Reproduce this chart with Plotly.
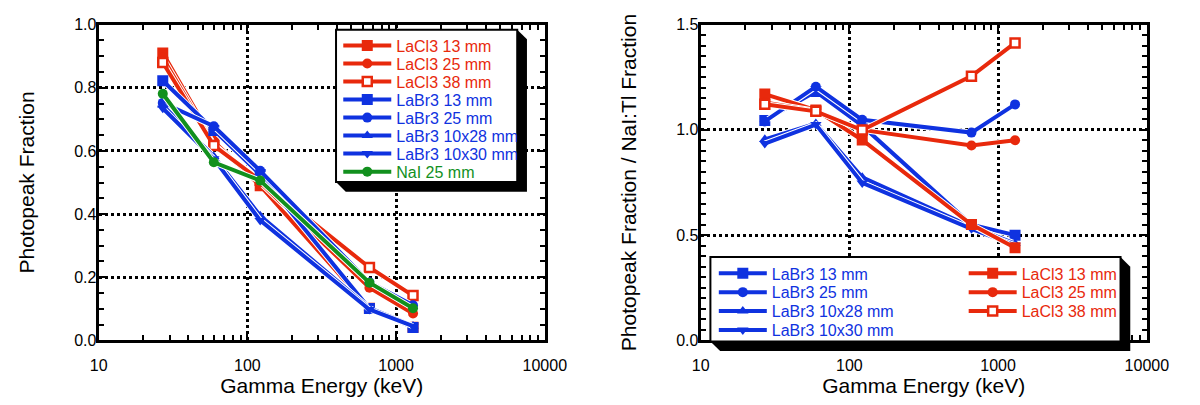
import plotly.graph_objects as go

# ---------------- data ----------------
energy = [27, 59.5, 122, 662, 1300]

# left panel: photopeak fraction
lacl3_13 = [0.91, 0.63, 0.49, 0.102, 0.042]
lacl3_25 = [0.895, 0.62, 0.50, 0.167, 0.085]
lacl3_38 = [0.88, 0.617, 0.507, 0.231, 0.142]
labr3_13 = [0.822, 0.665, 0.525, 0.101, 0.041]
labr3_25 = [0.752, 0.678, 0.537, 0.184, 0.111]
labr3_1028 = [0.745, 0.582, 0.395, 0.102, 0.046]
labr3_1030 = [0.735, 0.575, 0.38, 0.098, 0.045]
nai_25 = [0.781, 0.564, 0.506, 0.183, 0.102]

# right panel: ratio to NaI:Tl
r_labr3_13 = [1.045, 1.182, 1.02, 0.55, 0.50]
r_labr3_25 = [1.04, 1.205, 1.048, 0.987, 1.121]
r_labr3_1028 = [0.955, 1.03, 0.775, 0.54, 0.46]
r_labr3_1030 = [0.935, 1.025, 0.748, 0.53, 0.452]
r_lacl3_13 = [1.17, 1.094, 0.952, 0.55, 0.44]
r_lacl3_25 = [1.13, 1.09, 1.0, 0.926, 0.951]
r_lacl3_38 = [1.122, 1.088, 0.999, 1.255, 1.413]

x_tickvals = [10, 100, 1000, 10000]
x_ticktext = ["10", "100", "1000", "10000"]
x_minor = [m * d for d in (10, 100, 1000) for m in range(2, 10)]

RED = "#E8290C"
BLUE = "#0F32E0"
GREEN = "#12901E"
FONT = "Liberation Sans, Arial, Helvetica, sans-serif"

W, H = 1200, 405


def px(x):
    return x / W


def py(y):
    return 1 - y / H


fig = go.Figure()


def marker_for(sym, color):
    if sym == "square-open":
        return dict(symbol="square", size=9, color="white",
                    line=dict(color=color, width=2.5))
    size = 11 if sym == "square" else 10
    return dict(symbol=sym, size=size, color=color, line=dict(width=0))


left_series = [
    ("LaCl3 13 mm", lacl3_13, RED, "square"),
    ("LaCl3 25 mm", lacl3_25, RED, "circle"),
    ("LaCl3 38 mm", lacl3_38, RED, "square-open"),
    ("LaBr3 13 mm", labr3_13, BLUE, "square"),
    ("LaBr3 25 mm", labr3_25, BLUE, "circle"),
    ("LaBr3 10x28 mm", labr3_1028, BLUE, "triangle-up"),
    ("LaBr3 10x30 mm", labr3_1030, BLUE, "triangle-down"),
    ("NaI 25 mm", nai_25, GREEN, "circle"),
]
right_series = [
    ("LaBr3 13 mm", r_labr3_13, BLUE, "square"),
    ("LaBr3 25 mm", r_labr3_25, BLUE, "circle"),
    ("LaBr3 10x28 mm", r_labr3_1028, BLUE, "triangle-up"),
    ("LaBr3 10x30 mm", r_labr3_1030, BLUE, "triangle-down"),
    ("LaCl3 13 mm", r_lacl3_13, RED, "square"),
    ("LaCl3 25 mm", r_lacl3_25, RED, "circle"),
    ("LaCl3 38 mm", r_lacl3_38, RED, "square-open"),
]

# one single-entry legend per trace, so each row sits exactly where it should
left_rows = [(338, 39.3 + i * 18.8) for i in range(8)]
right_rows = [(723.5, 277 + i * 19.7) for i in range(4)] + \
             [(980, 277 + i * 19.7) for i in range(3)]


def legend_id(n):
    return "legend" if n == 0 else f"legend{n + 1}"


legends = {}
k = 0
panels = [("x", "y", left_series, left_rows), ("x2", "y2", right_series, right_rows)]
for xa, ya, series, rows in panels:
    for (name, ys, color, sym), (lx, ly) in zip(series, rows):
        lid = legend_id(k)
        # thin white halo under each line, as in the original drawing
        fig.add_trace(go.Scatter(
            x=energy, y=ys, mode="lines", line=dict(color="white", width=6),
            showlegend=False, hoverinfo="skip", xaxis=xa, yaxis=ya))
        fig.add_trace(go.Scatter(
            x=energy, y=ys, mode="lines+markers", name=name,
            line=dict(color=color, width=4), marker=marker_for(sym, color),
            xaxis=xa, yaxis=ya, legend=lid))
        legends[lid] = dict(x=px(lx), y=py(ly), xanchor="left", yanchor="middle",
                            bgcolor="rgba(0,0,0,0)", borderwidth=0, itemwidth=48,
                            font=dict(family=FONT, size=16, color=color))
        k += 1

common = dict(
    ticks="inside", ticklen=8, tickwidth=2, tickcolor="black",
    showline=True, linewidth=3, linecolor="black", mirror="allticks",
    showgrid=True, gridcolor="black", gridwidth=2.5, griddash="dot",
    zeroline=False, tickfont=dict(family=FONT, size=16, color="black"),
)
xcommon = dict(
    type="log", range=[1, 4], tickmode="array", tickvals=x_tickvals,
    ticktext=x_ticktext, ticklabelstandoff=8,
    minor=dict(tickvals=x_minor, ticks="inside", ticklen=5, tickwidth=2,
               tickcolor="black", showgrid=False),
    title=dict(text="Gamma Energy (keV)", font=dict(family=FONT, size=21, color="black"),
               standoff=2),
    **common,
)

ydom = [py(347), py(17.3)]


# legend boxes with drop shadow (pixel positions)
def box_shapes(x0, y0, x1, y1, d=10):
    shadow = (f"M{px(x1)},{py(y0)} L{px(x1 + d)},{py(y0 + d)} "
              f"L{px(x1 + d)},{py(y1 + d)} L{px(x0 + d)},{py(y1 + d)} "
              f"L{px(x0)},{py(y1)} Z")
    return [
        dict(type="path", path=shadow, xref="paper", yref="paper",
             fillcolor="black", line=dict(width=0), layer="above"),
        dict(type="rect", x0=px(x0), x1=px(x1), y0=py(y1), y1=py(y0),
             xref="paper", yref="paper", fillcolor="white",
             line=dict(color="black", width=2), layer="above"),
    ]


shapes = box_shapes(335.7, 22.7, 521.7, 181.7) + box_shapes(720, 260, 1141, 348)

ytitle_font = dict(family=FONT, size=21, color="black")
yminor = dict(dtick=0.05, ticks="inside", ticklen=5, tickwidth=2,
              tickcolor="black", showgrid=False)

fig.update_layout(
    width=W, height=H, margin=dict(l=0, r=0, t=0, b=0),
    paper_bgcolor="white", plot_bgcolor="white",
    font=dict(family=FONT, color="black"),
    xaxis=dict(domain=[px(92), px(550)], anchor="y", **xcommon),
    xaxis2=dict(domain=[px(710), px(1168)], anchor="y2", **xcommon),
    yaxis=dict(domain=ydom, anchor="x", range=[0, 1], tickmode="linear", tick0=0,
               dtick=0.2, tickformat=".1f", minor=yminor, ticklabelstandoff=-4,
               title=dict(text="Photopeak Fraction", font=ytitle_font, standoff=34),
               **common),
    yaxis2=dict(domain=ydom, anchor="x2", range=[0, 1.5], tickmode="linear", tick0=0,
                dtick=0.5, tickformat=".1f", minor=yminor, ticklabelstandoff=-4,
                title=dict(text="Photopeak Fraction / NaI:Tl Fraction",
                           font=ytitle_font, standoff=34),
                **common),
    shapes=shapes,
    showlegend=True,
    **legends,
)

fig.write_html("out.html")
